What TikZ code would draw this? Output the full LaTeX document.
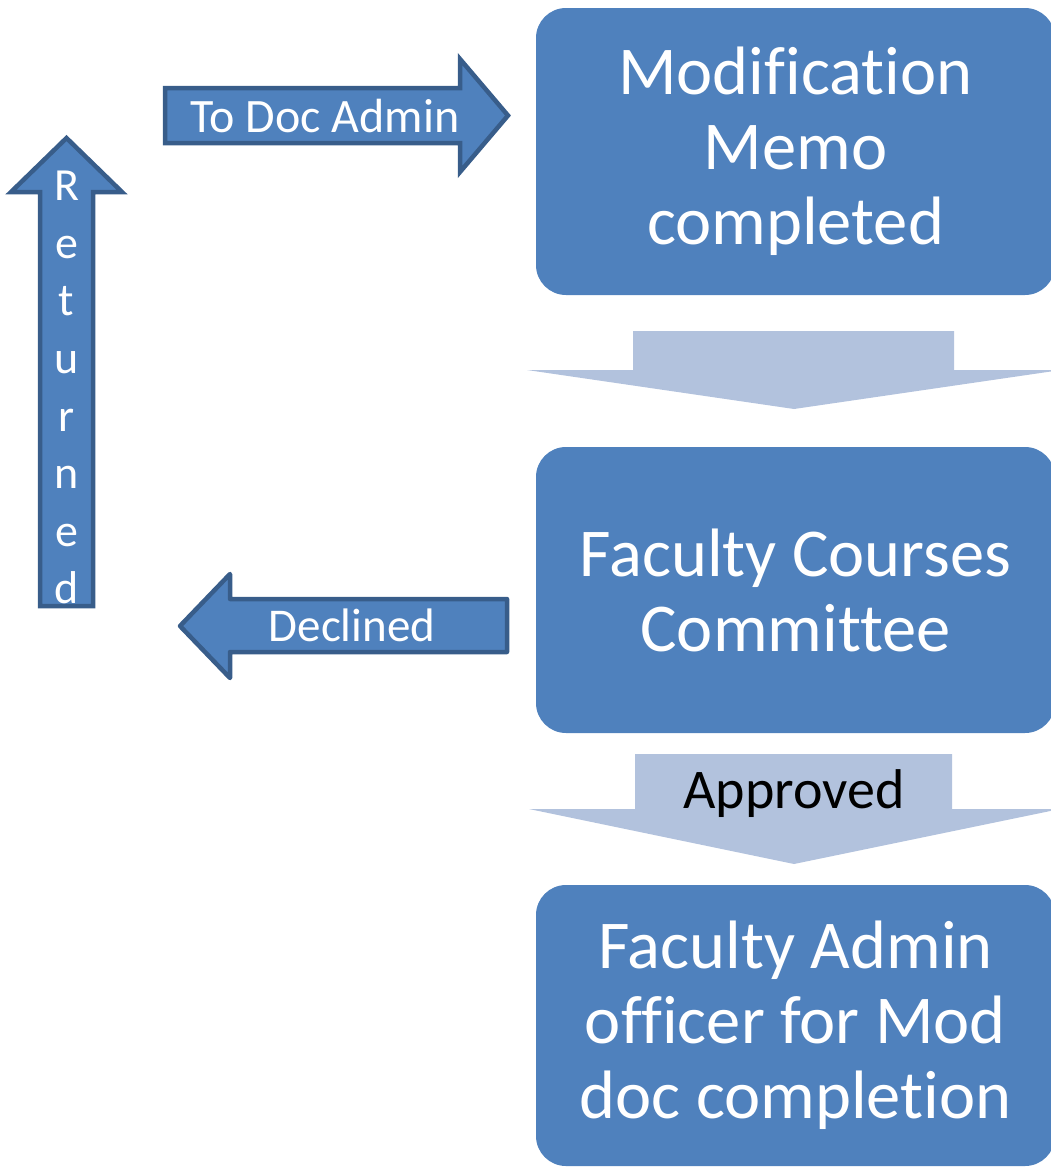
\documentclass[tikz,border=0pt]{standalone}
\usepackage{fontspec}
\setmainfont[Ligatures={NoCommon,NoContextual},RawFeature={-calt;-dlig}]{Carlito}
\definecolor{boxblue}{HTML}{4F81BD}
\definecolor{edgeblue}{HTML}{385D8A}
\definecolor{lightblue}{HTML}{B2C2DD}
\begin{document}
\begin{tikzpicture}[x=1pt,y=-1pt,
  stepbox/.style={rounded corners=30pt, fill=boxblue, text=white, minimum width=519pt,
    align=center, inner sep=0pt, font=\fontsize{68.5}{75}\selectfont},
  blockarrow/.style={fill=boxblue, draw=edgeblue, line width=4.5pt},
  flowarrow/.style={fill=lightblue},
  arrowlabel/.style={text=white, font=\fontsize{47}{47}\selectfont, inner sep=0pt}]
\useasboundingbox (0,0) rectangle (1050,1167);

% process boxes
\node[stepbox, minimum height=287pt] (memo) at (795.5,151.5) {Modification\\Memo\\completed};
\node[stepbox, minimum height=286pt] (fcc) at (795.5,590) {Faculty Courses\\Committee};
\node[stepbox, minimum height=281pt] (fao) at (795.5,1025.5) {Faculty Admin\\officer for Mod\\doc completion};

% light down arrows
\fill[flowarrow] (633,331) -- (954,331) -- (954,370) -- (1061,370) -- (794,409)
  -- (527,370) -- (633,370) -- cycle;
\fill[flowarrow] (635,754) -- (952,754) -- (952,809) -- (1060,809) -- (794,864)
  -- (529,809) -- (635,809) -- cycle;
\node[anchor=base, inner sep=0pt, font=\fontsize{56}{56}\selectfont, text=black] (appr) at (794,808) {Approved};

% To Doc Admin arrow
\draw[blockarrow] (165,88) -- (460,88) -- (460,59) -- (508,115.5) -- (460,172)
  -- (460,143) -- (165,143) -- cycle;
\node[arrowlabel, anchor=base, font=\fontsize{48}{48}\selectfont] (todoc) at (325,132) {To Doc Admin};

% Declined arrow
\draw[blockarrow, line join=round] (507,599) -- (230,599) -- (230,574) -- (180,626)
  -- (230,678) -- (230,652) -- (507,652) -- cycle;
\node[arrowlabel, anchor=base] (decl) at (352,641) {Declined};

% Returned arrow
\draw[blockarrow] (40,606) -- (40,192) -- (11,192) -- (66.5,138) -- (122,192)
  -- (93,192) -- (93,606) -- cycle;
\node[arrowlabel, anchor=north, align=center, font=\fontsize{46}{57.6}\selectfont] (ret) at (66.5,171)
  {R\\e\\t\\u\\r\\n\\e\\d};
\end{tikzpicture}
\end{document}
